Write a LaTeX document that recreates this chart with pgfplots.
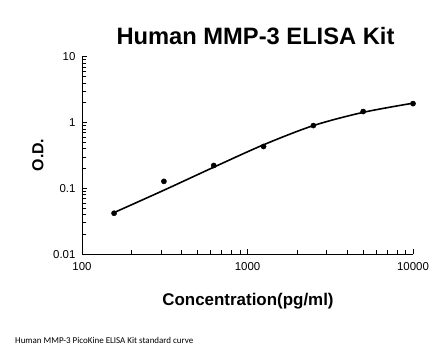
\documentclass[border=0pt]{standalone}
\usepackage{pgfplots}
\pgfplotsset{compat=1.18}
\usepackage{fontspec}
\setmainfont{Liberation Sans}
\newfontfamily\calibri{Carlito}
\begin{document}
\begin{tikzpicture}
\useasboundingbox (0,0) rectangle (446bp,356bp);
\begin{axis}[
  at={(82bp,101.7bp)}, anchor=south west,
  scale only axis, width=331bp, height=197.6bp,
  xmode=log, ymode=log,
  xmin=100, xmax=10000, ymin=0.01, ymax=10,
  axis lines*=left,
  axis line style={line width=1pt, black},
  xtick={100,1000,10000}, xticklabels={100,1000,10000},
  ytick={0.01,0.1,1,10}, yticklabels={0.01,0.1,1,10},
  tick align=inside,
  major tick length=5bp, minor tick length=4bp,
  every tick/.style={black, line width=0.8pt},
  tick label style={font=\fontsize{11.5}{13}\selectfont},
  /pgf/number format/assume math mode=true,
  xticklabel style={yshift=-5bp},
  yticklabel style={xshift=-3bp},
  clip=false,
]
\addplot[black, line width=1.6pt, smooth, tension=0.5] coordinates {
  (156.25,0.043) (312.5,0.094) (625,0.21) (1250,0.46) (2500,0.90) (5000,1.43) (10000,1.97)
};
\addplot[only marks, mark=*, mark size=2.6bp, black] coordinates {
  (156.25,0.042) (312.5,0.128) (625,0.223) (1250,0.433) (2500,0.90) (5000,1.47) (10000,1.94)
};
\end{axis}
\node[font=\bfseries\fontsize{23.8}{28}\selectfont] at (255.5bp,356bp-36bp) {Human MMP-3 ELISA Kit};
\node[font=\bfseries\fontsize{17}{20}\selectfont] at (248bp,356bp-301bp) {Concentration(pg/ml)};
\node[font=\bfseries\fontsize{16}{19}\selectfont, rotate=90] at (38bp,356bp-155bp) {O.D.};
\node[font=\calibri\fontsize{9}{11}\selectfont, anchor=west, inner sep=0pt] at (15bp,356bp-340.7bp) {Human MMP-3 PicoKine ELISA Kit standard curve};
\end{tikzpicture}
\end{document}
